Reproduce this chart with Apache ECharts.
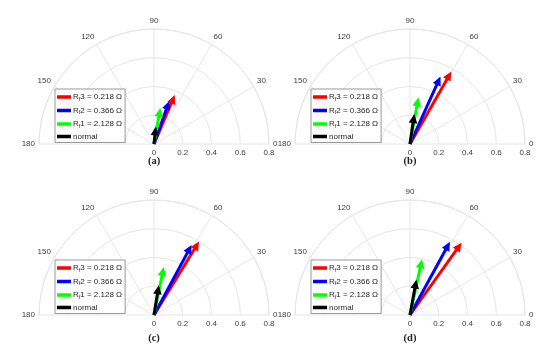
<!DOCTYPE html>
<html>
<head>
<meta charset="utf-8">
<script src="https://cdn.jsdelivr.net/npm/echarts@6/dist/echarts.min.js"></script>
<style>html,body{margin:0;padding:0;background:#fff;}#c{width:550px;height:355px;}</style>
</head>
<body>
<div id="c"></div>
<script>
// ---- data ----
const seriesNames = ['Rf3 = 0.218 Ω', 'Rf2 = 0.366 Ω', 'Rf1 = 2.128 Ω', 'normal'];
const seriesColors = ['#ff0000', '#0000ff', '#00ff00', '#000000'];
const panelLabels = ['(a)', '(b)', '(c)', '(d)'];
const angleTicks = [0, 30, 60, 90, 120, 150, 180];
const radiusTicks = [0, 0.2, 0.4, 0.6, 0.8];
// magnitude and angle (deg) per panel a, b, c, d
const rf3Mag = [0.37, 0.58, 0.60, 0.618];
const rf3Ang = [67.0, 60.3, 58.5, 54.5];
const rf2Mag = [0.318, 0.515, 0.553, 0.58];
const rf2Ang = [70.5, 65.7, 61.8, 61.4];
const rf1Mag = [0.255, 0.33, 0.34, 0.397];
const rf1Ang = [80.0, 79.8, 78.5, 77.8];
const normalMag = [0.123, 0.21, 0.21, 0.25];
const normalAng = [84.0, 81.8, 80.8, 79.8];

// ---- layout ----
const centers = [[154, 144], [410, 144], [154, 315], [410, 315]];
const R = 115;
const legendPos = [[55, 89], [311, 89], [55, 260], [311, 260]];
const labelPos = [[154, 161], [410, 161], [154, 338], [410, 338]];
const gridColor = '#e6e6e6';
const textColor = '#404040';
const font = 'Liberation Sans, Arial, sans-serif';

const mags = [rf3Mag, rf2Mag, rf1Mag, normalMag];
const angs = [rf3Ang, rf2Ang, rf1Ang, normalAng];

function arrowItem(params, api) {
  const o = api.coord([0, 0]);
  const t = api.coord([api.value(0), api.value(1)]);
  const color = api.visual('color');
  const dx = t[0] - o[0], dy = t[1] - o[1];
  const len = Math.hypot(dx, dy) || 1;
  const ux = dx / len, uy = dy / len;
  const L = 9, W = 4.3;
  const bx = t[0] - ux * L, by = t[1] - uy * L;
  const px = -uy, py = ux;
  return {
    type: 'group',
    children: [
      { type: 'line', shape: { x1: o[0], y1: o[1], x2: bx + ux * 2, y2: by + uy * 2 },
        style: { stroke: color, lineWidth: 3 } },
      { type: 'polygon', shape: { points: [[t[0], t[1]], [bx + px * W, by + py * W], [bx - px * W, by - py * W]] },
        style: { fill: color } }
    ]
  };
}

const polar = [], angleAxis = [], radiusAxis = [], series = [], legend = [], graphic = [];
for (let p = 0; p < 4; p++) {
  polar.push({ center: centers[p], radius: R });
  angleAxis.push({
    polarIndex: p, type: 'value', min: angleTicks[0], max: angleTicks[angleTicks.length - 1],
    interval: angleTicks[1] - angleTicks[0],
    startAngle: 0, endAngle: 180, clockwise: false,
    axisLine: { lineStyle: { color: gridColor, width: 1 } },
    axisTick: { show: false },
    axisLabel: { margin: 4, color: textColor, fontSize: 8, fontFamily: font },
    splitLine: { lineStyle: { color: gridColor, width: 1 } }
  });
  radiusAxis.push({
    polarIndex: p, type: 'value', min: radiusTicks[0], max: radiusTicks[radiusTicks.length - 1],
    interval: radiusTicks[1] - radiusTicks[0],
    axisLine: { show: false }, axisTick: { show: false },
    axisLabel: { margin: -5, verticalAlign: 'top', color: textColor, fontSize: 8, fontFamily: font },
    splitLine: { lineStyle: { color: gridColor, width: 1 } }
  });
  for (let s = 0; s < 4; s++) {
    series.push({
      type: 'custom', name: seriesNames[s], coordinateSystem: 'polar', polarIndex: p,
      itemStyle: { color: seriesColors[s] },
      encode: { radius: 0, angle: 1 },
      data: [[mags[s][p], angs[s][p]]],
      renderItem: arrowItem,
      z: 3 + s, silent: true, animation: false
    });
  }
  legend.push({
    data: seriesNames, orient: 'vertical', left: legendPos[p][0], top: legendPos[p][1],
    icon: 'rect', itemWidth: 14, itemHeight: 3.5, itemGap: 3.5,
    padding: [3, 3, 2, 2], backgroundColor: '#fff', borderColor: '#999', borderWidth: 1,
    borderRadius: 0, selectedMode: false, z: 10,
    textStyle: {
      padding: [0, 0, 0, -3],
      rich: {
        n: { fontSize: 8, fontFamily: font, color: '#262626', lineHeight: 10 },
        s: { fontSize: 5.5, fontFamily: font, color: '#262626', lineHeight: 10, padding: [4, 0, 0, 0] }
      }
    },
    formatter: function (name) {
      const m = name.match(/^Rf(\d)(.*)$/);
      if (m) return '{n|R}{s|f}{n|' + m[1] + m[2] + '}';
      return '{n|' + name + '}';
    }
  });
  graphic.push({
    type: 'text', x: labelPos[p][0], y: labelPos[p][1],
    style: { text: panelLabels[p], fill: '#222', font: 'bold 10.5px "Liberation Serif", "Times New Roman", serif',
             textAlign: 'center', textVerticalAlign: 'middle' }
  });
}

const chart = echarts.init(document.getElementById('c'), null, { renderer: 'canvas' });
chart.setOption({
  animation: false,
  backgroundColor: '#fff',
  polar, angleAxis, radiusAxis, series, legend, graphic
});
</script>
</body>
</html>
